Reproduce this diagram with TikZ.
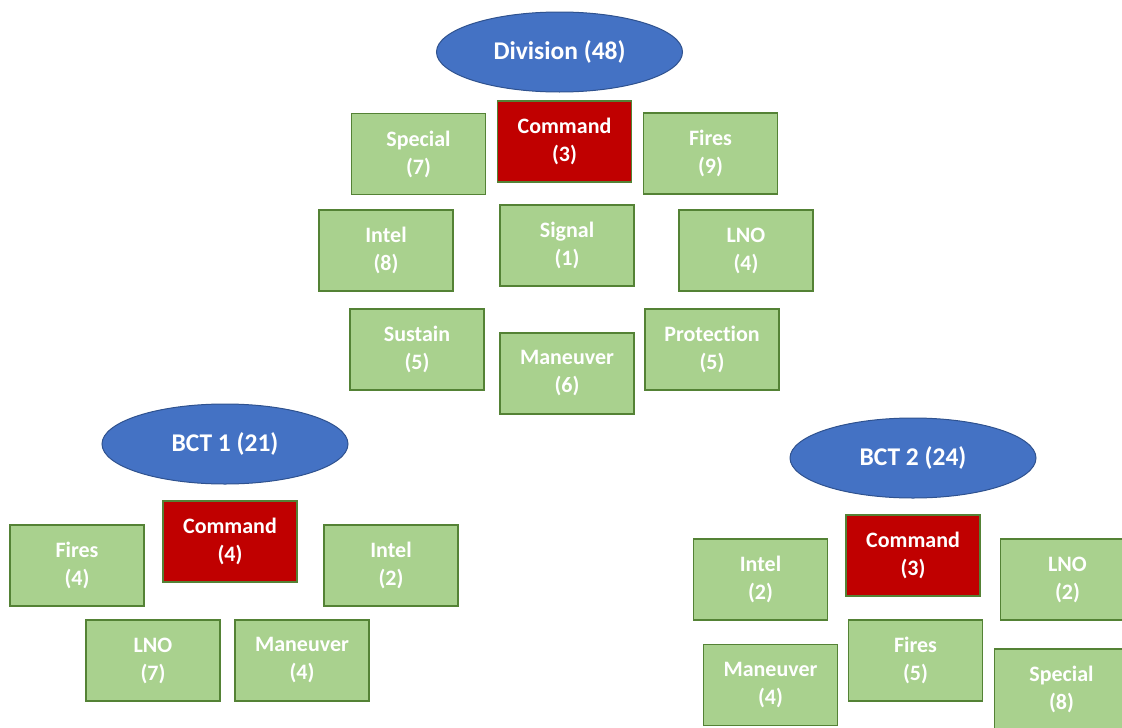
\documentclass[tikz,border=0pt]{standalone}
\usepackage{fontspec}
\setmainfont{Carlito}[Ligatures=NoCommon]
\usepackage{xcolor}
\usetikzlibrary{shapes.geometric}
\definecolor{ovalblue}{HTML}{4472C4}
\definecolor{ovalline}{HTML}{2F528F}
\definecolor{unitgreen}{HTML}{A9D18E}
\definecolor{unitline}{HTML}{548235}
\definecolor{cmdred}{HTML}{C00000}

\begin{document}
\begin{tikzpicture}[x=1pt,y=-1pt,
    every node/.style={font=\fontsize{22}{28}\selectfont\bfseries,text=white,align=center,inner sep=0pt},
    unitbox/.style={draw=unitline,line width=1.6pt,fill=unitgreen,minimum width=134pt,minimum height=81pt},
    cmdbox/.style={unitbox,fill=cmdred},
    orgoval/.style={ellipse,draw=ovalline,line width=1pt,fill=ovalblue,minimum width=246pt,minimum height=80pt,font=\fontsize{25.5}{30}\selectfont\bfseries}]
    \clip (0,0) rectangle (1122,728);
    % division
    \node[orgoval] (div) at (559.5,52) {Division (48)};
    \node[cmdbox] (divcmd) at (564.5,141.5) {Command\\(3)};
    \node[unitbox] (divspecial) at (418.5,154) {Special\\(7)};
    \node[unitbox] (divfires) at (710.5,153.5) {Fires\\(9)};
    \node[unitbox] (divintel) at (386,250.5) {Intel\\(8)};
    \node[unitbox] (divsignal) at (567,245.5) {Signal\\(1)};
    \node[unitbox] (divlno) at (746,250.5) {LNO\\(4)};
    \node[unitbox] (divsustain) at (417,349.5) {Sustain\\(5)};
    \node[unitbox] (divman) at (567,373.5) {Maneuver\\(6)};
    \node[unitbox] (divprot) at (712,349.5) {Protection\\(5)};
    % bct 1
    \node[orgoval] (bcta) at (225,444) {BCT 1 (21)};
    \node[cmdbox] (bctacmd) at (230,541.5) {Command\\(4)};
    \node[unitbox] (bctafires) at (77,565.5) {Fires\\(4)};
    \node[unitbox] (bctaintel) at (391,565.5) {Intel\\(2)};
    \node[unitbox] (bctalno) at (153,660.5) {LNO\\(7)};
    \node[unitbox] (bctaman) at (302,660.5) {Maneuver\\(4)};
    % bct 2
    \node[orgoval] (bctb) at (913,458) {BCT 2 (24)};
    \node[cmdbox] (bctbcmd) at (913,555.5) {Command\\(3)};
    \node[unitbox] (bctbintel) at (760.5,579.5) {Intel\\(2)};
    \node[unitbox] (bctblno) at (1067.5,579.5) {LNO\\(2)};
    \node[unitbox] (bctbman) at (770.5,685) {Maneuver\\(4)};
    \node[unitbox] (bctbfires) at (915.5,660.5) {Fires\\(5)};
    \node[unitbox] (bctbspecial) at (1061.5,689.5) {Special\\(8)};
  \end{tikzpicture}
\end{document}
